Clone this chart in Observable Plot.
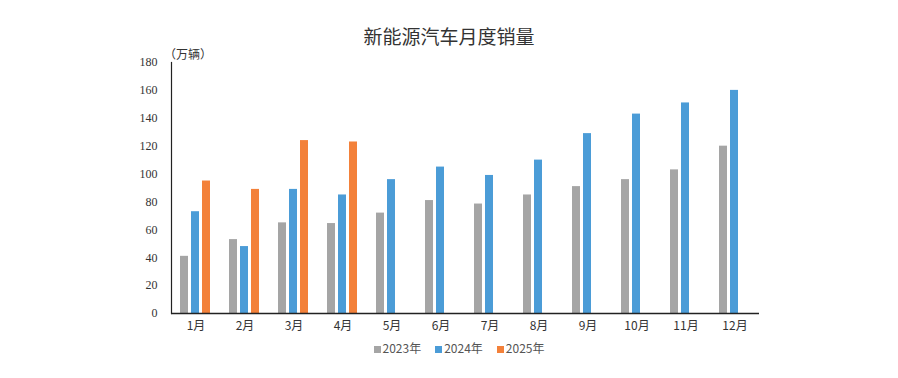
<!DOCTYPE html>
<html>
<head>
<meta charset="utf-8">
<script src="https://cdn.jsdelivr.net/npm/d3@7"></script>
<script src="https://cdn.jsdelivr.net/npm/@observablehq/plot@0.6"></script>
<style>
  body { margin: 0; background: #fff; width: 898px; height: 378px; overflow: hidden; position: relative; }
  #title { position: absolute; left: 0; top: 23px; width: 898px; text-align: center;
    font-family: "Noto Sans CJK SC", sans-serif; font-size: 19px; color: #333; line-height: 26px; }
  #unit { position: absolute; left: 164px; top: 45px; font-family: "Noto Sans CJK SC", sans-serif;
    font-size: 12px; color: #333; }
  #chart { position: absolute; left: 0; top: 50px; }
  #legend { position: absolute; left: 0; top: 339px; width: 918px; text-align: center;
    font-family: "Noto Sans CJK SC", sans-serif; font-size: 12px; color: #555; }
  #legend span.item { margin: 0 7px; }
  #legend span.sw { display: inline-block; width: 7px; height: 7px; margin-right: 2px; vertical-align: 0px; }
</style>
</head>
<body>
<div id="title"></div>
<div id="unit"></div>
<div id="chart"></div>
<div id="legend"></div>
<script>
const title = "新能源汽车月度销量";
const unitLabel = "（万辆）";
const months = ["1月","2月","3月","4月","5月","6月","7月","8月","9月","10月","11月","12月"];
const seriesNames = ["2023年","2024年","2025年"];
const sales2023 = [41, 53, 65, 64.5, 72, 81, 78.5, 85, 91, 96, 103, 120];
const sales2024 = [73, 48, 89, 85, 96, 105, 99, 110, 129, 143, 151, 160];
const sales2025 = [95, 89, 124, 123];
const yTicks = [0, 20, 40, 60, 80, 100, 120, 140, 160, 180];
const colors = ["#a5a5a5", "#4b9cd7", "#f3813a"];

const data = [];
[sales2023, sales2024, sales2025].forEach((arr, si) => {
  arr.forEach((v, i) => data.push({month: months[i], series: seriesNames[si], value: v}));
});

document.getElementById("title").textContent = title;
document.getElementById("unit").textContent = unitLabel;

const chart = Plot.plot({
  width: 898,
  height: 290,
  marginTop: 12,
  marginBottom: 27,
  marginLeft: 170,
  marginRight: 138,
  style: {fontFamily: "'Liberation Serif', 'Noto Sans CJK SC', serif", fontSize: "12px", color: "#333"},
  fx: {domain: months, padding: 0, label: null},
  x: {domain: seriesNames, paddingInner: 0.27, paddingOuter: 0.79, axis: null},
  y: {domain: [0, 180], ticks: yTicks, label: null},
  color: {domain: seriesNames, range: colors},
  marks: [
    Plot.axisY({ticks: yTicks, tickSize: 0, tickPadding: 14, label: null, fontSize: 12}),
    Plot.axisFx({anchor: "bottom", tickSize: 0, tickPadding: 8, label: null, fontSize: 12, fontFamily: "'Noto Sans CJK SC', sans-serif"}),
    Plot.barY(data, {fx: "month", x: "series", y: "value", fill: "series"}),
    Plot.ruleY([0], {stroke: "#222", strokeWidth: 1.6}),
    Plot.frame({anchor: "left", facetAnchor: "left", stroke: "#222", strokeWidth: 1.2})
  ]
});
document.getElementById("chart").appendChild(chart);

const legend = document.getElementById("legend");
seriesNames.forEach((name, i) => {
  const item = document.createElement("span");
  item.className = "item";
  const sw = document.createElement("span");
  sw.className = "sw";
  sw.style.background = colors[i];
  item.appendChild(sw);
  item.appendChild(document.createTextNode(name));
  legend.appendChild(item);
});
</script>
</body>
</html>
